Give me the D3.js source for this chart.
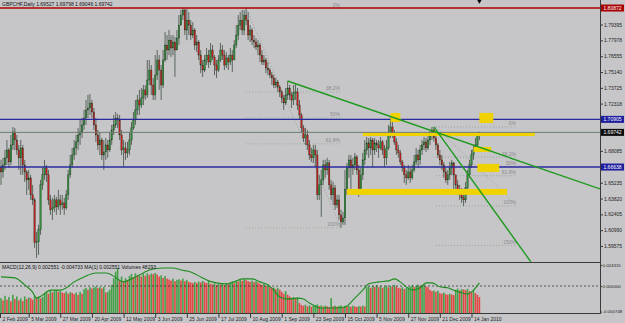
<!DOCTYPE html>
<html>
<head>
<meta charset="utf-8">
<script src="https://cdn.jsdelivr.net/npm/d3@7"></script>
<style>
  body { margin: 0; background: #c6c6c9; }
  svg { display: block; font-family: 'Liberation Sans', Arial, sans-serif; }
</style>
</head>
<body>
<svg id="chart" width="625" height="323"></svg>
<script>
// GBPCHF daily (open = previous close)
const firstOpen = 1.6660;
const closes = [
  1.6620, 1.6683, 1.6746, 1.6817, 1.6710, 1.6862, 1.6978, 1.6906, 1.6817, 1.6746,
  1.6835, 1.6683, 1.6620, 1.6549, 1.6567, 1.6415, 1.6370, 1.5986, 1.5994, 1.6102,
  1.6504, 1.6594, 1.6656, 1.6594, 1.6370, 1.6281, 1.6298, 1.6370, 1.6307, 1.6370,
  1.6325, 1.6343, 1.6298, 1.6415, 1.6594, 1.6683, 1.6772, 1.6835, 1.6889, 1.6951,
  1.6978, 1.7041, 1.7103, 1.7175, 1.7192, 1.7237, 1.7157, 1.7041, 1.6951, 1.6862,
  1.6906, 1.6772, 1.6799, 1.6862, 1.6817, 1.6906, 1.6996, 1.7041, 1.7103, 1.7085,
  1.6951, 1.6817, 1.6835, 1.6790, 1.6817, 1.6906, 1.7014, 1.7085, 1.7175, 1.7264,
  1.7219, 1.7282, 1.7354, 1.7309, 1.7443, 1.7532, 1.7398, 1.7309, 1.7488, 1.7622,
  1.7532, 1.7398, 1.7622, 1.7756, 1.7711, 1.7800, 1.7729, 1.7783, 1.7711, 1.7818,
  1.7934, 1.8024, 1.8069, 1.7890, 1.7979, 1.7934, 1.7845, 1.7890, 1.7756, 1.7783,
  1.7666, 1.7577, 1.7532, 1.7622, 1.7666, 1.7604, 1.7711, 1.7648, 1.7577, 1.7532,
  1.7622, 1.7711, 1.7666, 1.7577, 1.7640, 1.7604, 1.7666, 1.7622, 1.7756, 1.7845,
  1.7934, 1.7979, 1.7890, 1.8024, 1.7979, 1.7845, 1.7890, 1.7800, 1.7783, 1.7738,
  1.7756, 1.7666, 1.7604, 1.7622, 1.7550, 1.7532, 1.7488, 1.7461, 1.7398, 1.7425,
  1.7380, 1.7336, 1.7282, 1.7237, 1.7309, 1.7371, 1.7309, 1.7264, 1.7327, 1.7336,
  1.7219, 1.7130, 1.7014, 1.6924, 1.6951, 1.6862, 1.6772, 1.6746, 1.6817, 1.6772,
  1.6415, 1.6504, 1.6549, 1.6683, 1.6638, 1.6701, 1.6504, 1.6415, 1.6477, 1.6325,
  1.6370, 1.6236, 1.6173, 1.6209, 1.6460, 1.6656, 1.6728, 1.6656, 1.6683, 1.6755,
  1.6638, 1.6460, 1.6594, 1.6728, 1.6817, 1.6880, 1.6835, 1.6906, 1.6817, 1.6880,
  1.6862, 1.6835, 1.6889, 1.6817, 1.6746, 1.6835, 1.6951, 1.7023, 1.6951, 1.6889,
  1.6817, 1.6790, 1.6710, 1.6656, 1.6594, 1.6567, 1.6620, 1.6567, 1.6638, 1.6710,
  1.6772, 1.6728, 1.6817, 1.6862, 1.6889, 1.6835, 1.6906, 1.6951, 1.6996, 1.6924,
  1.6862, 1.6772, 1.6728, 1.6683, 1.6620, 1.6549, 1.6594, 1.6656, 1.6701, 1.6594,
  1.6504, 1.6460, 1.6415, 1.6388, 1.6370, 1.6477, 1.6594, 1.6683, 1.6772, 1.6817,
  1.6862, 1.69527, 1.69742
];
const highs = [
  1.6728, 1.6746, 1.6817, 1.6906, 1.6835, 1.6951, 1.7023, 1.7014, 1.6951, 1.6862,
  1.6906, 1.6862, 1.6728, 1.6638, 1.6638, 1.6594, 1.6504, 1.6388, 1.6084, 1.6147,
  1.6549, 1.6656, 1.6728, 1.6683, 1.6638, 1.6415, 1.6388, 1.6415, 1.6397, 1.6460,
  1.6415, 1.6415, 1.6388, 1.6460, 1.6638, 1.6772, 1.6835, 1.6906, 1.6951, 1.7014,
  1.7085, 1.7103, 1.7175, 1.7264, 1.7309, 1.7318, 1.7264, 1.7192, 1.7103, 1.6996,
  1.6969, 1.6924, 1.6906, 1.6924, 1.6906, 1.6978, 1.7041, 1.7130, 1.7157, 1.7139,
  1.7130, 1.6996, 1.6906, 1.6889, 1.6889, 1.6978, 1.7067, 1.7157, 1.7264, 1.7309,
  1.7354, 1.7371, 1.7398, 1.7398, 1.7622, 1.7622, 1.7577, 1.7461, 1.7666, 1.7711,
  1.7666, 1.7577, 1.7711, 1.7872, 1.7845, 1.7890, 1.7845, 1.7845, 1.7827, 1.7890,
  1.8024, 1.8070, 1.8087, 1.8080, 1.8080, 1.8051, 1.7979, 1.7961, 1.7908, 1.7845,
  1.7800, 1.7711, 1.7622, 1.7666, 1.7729, 1.7711, 1.7774, 1.7756, 1.7666, 1.7622,
  1.7666, 1.7774, 1.7756, 1.7711, 1.7693, 1.7666, 1.7729, 1.7711, 1.7800, 1.7934,
  1.8024, 1.8051, 1.8069, 1.8069, 1.8087, 1.8051, 1.7934, 1.7908, 1.7845, 1.7818,
  1.7800, 1.7774, 1.7711, 1.7666, 1.7640, 1.7604, 1.7550, 1.7514, 1.7488, 1.7461,
  1.7443, 1.7398, 1.7354, 1.7309, 1.7371, 1.7434, 1.7398, 1.7336, 1.7398, 1.7416,
  1.7371, 1.7264, 1.7148, 1.7041, 1.7014, 1.6996, 1.6906, 1.6835, 1.6862, 1.6862,
  1.6817, 1.6594, 1.6638, 1.6728, 1.6728, 1.6746, 1.6728, 1.6549, 1.6531, 1.6504,
  1.6415, 1.6415, 1.6281, 1.6263, 1.6638, 1.6701, 1.6772, 1.6772, 1.6746, 1.6790,
  1.6772, 1.6683, 1.6656, 1.6790, 1.6906, 1.6933, 1.6924, 1.6933, 1.6924, 1.6924,
  1.6906, 1.6906, 1.6933, 1.6906, 1.6862, 1.6906, 1.7041, 1.7112, 1.7103, 1.6996,
  1.6924, 1.6862, 1.6817, 1.6728, 1.6683, 1.6638, 1.6683, 1.6656, 1.6683, 1.6772,
  1.6835, 1.6817, 1.6862, 1.6906, 1.6933, 1.6924, 1.6951, 1.6996, 1.7023, 1.7023,
  1.6951, 1.6880, 1.6817, 1.6772, 1.6710, 1.6656, 1.6638, 1.6710, 1.6728, 1.6710,
  1.6594, 1.6549, 1.6504, 1.6477, 1.6442, 1.6531, 1.6638, 1.6728, 1.6817, 1.6862,
  1.6924, 1.6960, 1.69798
];
const lows = [
  1.6504, 1.6567, 1.6638, 1.6683, 1.6656, 1.6683, 1.6817, 1.6817, 1.6772, 1.6638,
  1.6594, 1.6594, 1.6531, 1.6415, 1.6460, 1.6370, 1.6325, 1.5941, 1.5851, 1.5878,
  1.6057, 1.6460, 1.6549, 1.6531, 1.6325, 1.6236, 1.6191, 1.6263, 1.6236, 1.6281,
  1.6236, 1.6281, 1.6236, 1.6281, 1.6370, 1.6567, 1.6656, 1.6728, 1.6772, 1.6817,
  1.6862, 1.6924, 1.6996, 1.7041, 1.7103, 1.7130, 1.7103, 1.6996, 1.6889, 1.6817,
  1.6772, 1.6728, 1.6638, 1.6728, 1.6746, 1.6799, 1.6862, 1.6951, 1.7014, 1.7014,
  1.6906, 1.6772, 1.6665, 1.6728, 1.6746, 1.6772, 1.6862, 1.6996, 1.7041, 1.7130,
  1.7130, 1.7192, 1.7219, 1.7264, 1.7282, 1.7398, 1.7309, 1.7264, 1.7264, 1.7443,
  1.7354, 1.7264, 1.7371, 1.7604, 1.7622, 1.7666, 1.7648, 1.7666, 1.7470, 1.7711,
  1.7756, 1.7934, 1.7979, 1.7845, 1.7800, 1.7845, 1.7800, 1.7818, 1.7711, 1.7693,
  1.7622, 1.7505, 1.7470, 1.7514, 1.7577, 1.7550, 1.7577, 1.7622, 1.7488, 1.7461,
  1.7514, 1.7604, 1.7622, 1.7532, 1.7550, 1.7532, 1.7577, 1.7514, 1.7622, 1.7729,
  1.7800, 1.7890, 1.7845, 1.7845, 1.7934, 1.7800, 1.7783, 1.7756, 1.7729, 1.7711,
  1.7666, 1.7604, 1.7577, 1.7577, 1.7505, 1.7488, 1.7461, 1.7398, 1.7371, 1.7371,
  1.7336, 1.7291, 1.7237, 1.7175, 1.7219, 1.7264, 1.7264, 1.7192, 1.7219, 1.7264,
  1.7175, 1.7085, 1.6969, 1.6889, 1.6862, 1.6817, 1.6728, 1.6710, 1.6701, 1.6665,
  1.6370, 1.6370, 1.6218, 1.6504, 1.6567, 1.6594, 1.6460, 1.6370, 1.6325, 1.6281,
  1.6298, 1.6191, 1.6120, 1.6147, 1.6147, 1.6415, 1.6567, 1.6460, 1.6594, 1.6638,
  1.6594, 1.6397, 1.6415, 1.6549, 1.6683, 1.6772, 1.6746, 1.6772, 1.6665, 1.6772,
  1.6799, 1.6746, 1.6817, 1.6772, 1.6665, 1.6683, 1.6817, 1.6924, 1.6924, 1.6862,
  1.6772, 1.6746, 1.6683, 1.6620, 1.6522, 1.6504, 1.6549, 1.6522, 1.6549, 1.6620,
  1.6683, 1.6656, 1.6683, 1.6772, 1.6817, 1.6799, 1.6817, 1.6862, 1.6906, 1.6889,
  1.6817, 1.6746, 1.6683, 1.6638, 1.6567, 1.6522, 1.6504, 1.6549, 1.6594, 1.6433,
  1.6460, 1.6415, 1.6370, 1.6343, 1.6316, 1.6343, 1.6442, 1.6567, 1.6656, 1.6728,
  1.6799, 1.6835, 1.69046
];

// volumes (thousands) and their smoothing line
const volumes = [
  45, 38, 52, 40, 48, 35, 55, 42, 50, 38,
  44, 36, 50, 42, 47, 45, 40, 52, 46, 50,
  44, 48, 60, 65, 58, 68, 62, 66, 70, 64,
  67, 62, 60, 65, 58, 63, 61, 57, 62, 55,
  64, 58, 72, 76, 70, 78, 74, 77, 80, 75,
  78, 74, 79, 62, 64, 70, 85, 105, 125, 136,
  100, 110, 95, 105, 98, 112, 118, 108, 120, 114,
  116, 110, 118, 112, 120, 115, 119, 117, 121, 116,
  110, 114, 106, 112, 104, 101, 98, 104, 96, 100,
  102, 98, 104, 96, 100, 94, 92, 90, 94, 91,
  95, 92, 97, 93, 90, 96, 88, 86, 90, 85,
  88, 86, 90, 84, 89, 87, 92, 96, 90, 98,
  95, 100, 97, 102, 99, 96, 94, 98, 93, 96,
  92, 88, 85, 90, 82, 87, 78, 74, 77, 72,
  76, 70, 64, 58, 66, 55, 50, 46, 48, 45,
  47, 30, 24, 22, 25, 20, 23, 19, 22, 24,
  26, 21, 23, 19, 22, 20, 18, 45, 20, 22,
  19, 21, 23, 18, 22, 20, 21, 19, 22, 20,
  18, 21, 19, 22, 20, 78, 80, 75, 82, 79,
  84, 78, 81, 76, 80, 83, 77, 82, 79, 85,
  80, 76, 74, 78, 72, 75, 77, 80, 84, 78,
  82, 86, 81, 84, 88, 80, 78, 70, 66, 68,
  64, 67, 60, 58, 62, 57, 55, 58, 56, 54,
  70, 74, 68, 72, 71, 69, 73, 66, 62, 68,
  60, 55, 48.3
];
const maBars = [0, 7, 12, 16, 18, 21, 25, 30, 33, 37, 42, 48, 53, 56, 62, 67, 72, 75, 82, 87,
  91, 96, 101, 105, 109, 114, 118, 122, 127, 131, 135, 138, 141, 145, 150, 153, 156, 160, 161, 169,
  174, 179, 183, 186, 191, 196, 199, 202, 205, 208, 212, 215, 218, 222, 226, 229, 232, 236, 239, 242];
const maValues = [109, 106, 85, 63, 45, 54, 69, 69, 76, 94, 109, 121, 121, 115, 94, 106, 121, 130, 136, 136,
  130, 124, 109, 97, 91, 88, 94, 103, 103, 94, 85, 69, 48, 42, 45, 42, 30, 18, 15, 15,
  18, 45, 69, 88, 94, 97, 103, 94, 79, 69, 76, 91, 91, 79, 76, 69, 63, 57, 69, 91];

const priceTicks = ['1.79395', '1.77978', '1.76555', '1.75140', '1.73725', '1.72318',
  '1.68085', '1.65235', '1.63820', '1.62405', '1.60990', '1.59575'];
const macdTicks = ['0.024315', '0.000000', '-0.000748'];
const dateLabels = ['2 Feb 2009', '5 Mar 2009', '27 Mar 2009', '20 Apr 2009', '12 May 2009', '3 Jun 2009',
  '25 Jun 2009', '17 Jul 2009', '10 Aug 2009', '1 Sep 2009', '23 Sep 2009', '15 Oct 2009',
  '5 Nov 2009', '27 Nov 2009', '21 Dec 2009', '14 Jan 2010'];
const dateBars = [-0.5, 14, 30, 46, 62, 78, 94, 110, 126, 142, 158, 174, 190, 206, 222, 238];

// horizontal lines with their axis tags
const levelPrices = [1.80872, 1.70905, 1.69742, 1.66638];
const levelKinds = ['high', 'resist', 'last', 'resist'];

// fibonacci retracements: [bar, price] anchors
const fib1 = [[124, 1.80872], [172, 1.6120]];
const fib1Levels = [0, 38.2, 50, 61.8, 100];
const fib2 = [[220, 1.7023], [261, 1.6316]];
const fib2Levels = [0, 38.2, 50, 61.8, 100, 150];

// trend lines
const trendBars = [[145, 303], [219, 268]];
const trendPrices = [[1.7434, 1.6468], [1.7023, 1.5816]];

// yellow zones
const zoneBar0 = [183, 197, 175, 242, 239, 241];
const zoneBar1 = [270, 202, 256, 249, 248, 252];
const zoneTop = [1.6969, 1.7148, 1.6468, 1.7148, 1.6844, 1.6692];
const zoneBottom = [1.6942, 1.7067, 1.6415, 1.7058, 1.6799, 1.6620];

const title = 'GBPCHF,Daily  1.69527  1.69798  1.69046  1.69742';
const macdTitle = 'MACD(12,26,9) 0.002551 -0.004733 MA(1) 0.002551 Volumes 48293';

const plotRight = 600, mainBottom = 262, panelTop = 263, panelBottom = 313;

const x = d3.scaleLinear().domain([0, 242]).range([1, 479.4]);
const y = d3.scaleLinear().domain([1.5814, 1.8159]).range([mainBottom, 0]);
const yVol = d3.scaleLinear().domain([0, 151]).range([panelBottom, panelTop]);
const yMacd = d3.scaleLinear().domain([-0.000748, 0, 0.024315]).range([311.5, 286, 265]);

const svg = d3.select('#chart');
svg.append('rect').attr('width', 625).attr('height', 323).attr('fill', '#c6c6c9');

const defs = svg.append('defs');
defs.append('clipPath').attr('id', 'clipMain').append('rect')
  .attr('x', 0).attr('y', 0).attr('width', plotRight).attr('height', mainBottom);
defs.append('clipPath').attr('id', 'clipPanel').append('rect')
  .attr('x', 0).attr('y', panelTop).attr('width', plotRight).attr('height', panelBottom - panelTop);

const main = svg.append('g').attr('clip-path', 'url(#clipMain)');

// fib levels
function drawFib(anchors, levels, color) {
  const [a, b] = anchors;
  const g = main.append('g').attr('class', 'fib');
  const lv = levels.map(p => ({ p, price: a[1] + (b[1] - a[1]) * p / 100 }));
  g.selectAll('line.lvl').data(lv).enter().append('line')
    .attr('x1', x(a[0])).attr('x2', x(b[0]))
    .attr('y1', d => y(d.price)).attr('y2', d => y(d.price))
    .attr('stroke', color).attr('stroke-width', 0.8).attr('stroke-dasharray', '1,2');
  g.append('line')
    .attr('x1', x(a[0])).attr('y1', y(a[1])).attr('x2', x(b[0])).attr('y2', y(b[1]))
    .attr('stroke', '#8c968c').attr('stroke-width', 0.8).attr('stroke-dasharray', '1,2');
  g.selectAll('text').data(lv).enter().append('text')
    .attr('x', x(b[0]) - 1).attr('y', d => y(d.price) - 1.5)
    .attr('text-anchor', 'end').attr('font-size', 5).attr('fill', '#8a8a8a')
    .text(d => d.p + '%');
}
drawFib(fib1, fib1Levels, '#86a886');
drawFib(fib2, fib2Levels, '#8e9c8e');

// candles
const bars = closes.map((c, i) => ({ i, open: i === 0 ? firstOpen : closes[i - 1], close: c, high: highs[i], low: lows[i] }));
const bw = 1.5;
const candle = main.append('g').attr('class', 'candles')
  .selectAll('g').data(bars).enter().append('g');
candle.append('line')
  .attr('x1', d => x(d.i)).attr('x2', d => x(d.i))
  .attr('y1', d => y(d.high)).attr('y2', d => y(d.low))
  .attr('stroke', '#2c3c2c').attr('stroke-width', 0.7);
candle.append('rect')
  .attr('x', d => x(d.i) - bw / 2)
  .attr('y', d => y(Math.max(d.open, d.close)))
  .attr('width', bw)
  .attr('height', d => Math.max(0.7, Math.abs(y(d.open) - y(d.close))))
  .attr('fill', d => d.close >= d.open ? '#2f8a3a' : '#c41c1c')
  .attr('stroke', '#1e361e').attr('stroke-width', 0.3);

// horizontal levels
const levelColor = { high: '#b30000', resist: '#2a2aa0', last: '#6e7c6e' };
main.selectAll('line.level').data(levelPrices).enter().append('line')
  .attr('x1', 0).attr('x2', plotRight)
  .attr('y1', d => y(d)).attr('y2', d => y(d))
  .attr('stroke', (d, i) => levelColor[levelKinds[i]])
  .attr('stroke-width', (d, i) => levelKinds[i] === 'last' ? 1 : 1.4);

// yellow zones
main.selectAll('rect.zone').data(zoneTop).enter().append('rect')
  .attr('x', (d, i) => x(zoneBar0[i]))
  .attr('width', (d, i) => x(zoneBar1[i]) - x(zoneBar0[i]))
  .attr('y', d => y(d))
  .attr('height', (d, i) => y(zoneBottom[i]) - y(d))
  .attr('fill', '#f0d200');

// trend lines
main.selectAll('line.trend').data(trendBars).enter().append('line')
  .attr('x1', d => x(d[0])).attr('x2', d => x(d[1]))
  .attr('y1', (d, i) => y(trendPrices[i][0])).attr('y2', (d, i) => y(trendPrices[i][1]))
  .attr('stroke', '#1f9a1f').attr('stroke-width', 1.4);

// indicator panel
const panel = svg.append('g').attr('clip-path', 'url(#clipPanel)');
panel.selectAll('rect.vol').data(volumes).enter().append('rect')
  .attr('x', (d, i) => x(i) - 0.8).attr('width', 1.6)
  .attr('y', d => yVol(d)).attr('height', d => panelBottom - yVol(d))
  .attr('fill', (d, i) => i > 0 && d < volumes[i - 1] ? '#e8302c' : '#2f9a33')
  .attr('opacity', 0.85);
panel.append('line')
  .attr('x1', 0).attr('x2', plotRight).attr('y1', yMacd(0)).attr('y2', yMacd(0))
  .attr('stroke', '#202020').attr('stroke-width', 0.7).attr('stroke-dasharray', '2,2');
const maLine = d3.line().curve(d3.curveMonotoneX)
  .x(d => x(d[0])).y(d => yVol(d[1]));
panel.append('path')
  .attr('d', maLine(maBars.map((b, i) => [b, maValues[i]])))
  .attr('fill', 'none').attr('stroke', '#1d8c1d').attr('stroke-width', 1.1);

// frame lines
svg.append('line').attr('x1', 0).attr('x2', plotRight).attr('y1', mainBottom + 0.5).attr('y2', mainBottom + 0.5)
  .attr('stroke', '#3a3a3a').attr('stroke-width', 1);
svg.append('line').attr('x1', 0).attr('x2', plotRight).attr('y1', panelBottom + 0.5).attr('y2', panelBottom + 0.5)
  .attr('stroke', '#3a3a3a').attr('stroke-width', 1);
svg.append('line').attr('x1', plotRight + 0.5).attr('x2', plotRight + 0.5).attr('y1', 0).attr('y2', panelBottom + 1)
  .attr('stroke', '#3a3a3a').attr('stroke-width', 1);

// right price axis
const yAxis = d3.axisRight(y)
  .tickValues(priceTicks.map(Number))
  .tickFormat((d, i) => priceTicks[i])
  .tickSize(3).tickSizeOuter(0).tickPadding(1);
const yAxisG = svg.append('g').attr('transform', `translate(${plotRight},0)`).call(yAxis);
yAxisG.select('.domain').remove();
yAxisG.selectAll('line').attr('stroke', '#3a3a3a');
yAxisG.selectAll('text').attr('font-size', 5).attr('fill', '#1e1e1e').attr('font-family', 'Liberation Sans, Arial, sans-serif');

const mAxis = d3.axisRight(yMacd)
  .tickValues(macdTicks.map(Number))
  .tickFormat((d, i) => macdTicks[i])
  .tickSize(2).tickSizeOuter(0).tickPadding(0.5);
const mAxisG = svg.append('g').attr('transform', `translate(${plotRight},0)`).call(mAxis);
mAxisG.select('.domain').remove();
mAxisG.selectAll('line').attr('stroke', '#3a3a3a');
mAxisG.selectAll('text').attr('font-size', 4.4).attr('fill', '#1e1e1e').attr('font-family', 'Liberation Sans, Arial, sans-serif');

// price tags on the axis
const tagColor = { high: '#a80000', resist: '#1e1e9e', last: '#0c0c0c' };
const tags = svg.append('g').selectAll('g').data(levelPrices).enter().append('g')
  .attr('transform', d => `translate(${plotRight + 1},${y(d)})`);
tags.append('rect')
  .attr('x', 0).attr('y', -3.5).attr('width', 23).attr('height', 7)
  .attr('fill', (d, i) => tagColor[levelKinds[i]]);
tags.append('text')
  .attr('x', 11.5).attr('y', 1.8).attr('text-anchor', 'middle')
  .attr('font-size', 5).attr('fill', '#ffffff')
  .text(d => d.toFixed(5));

// date axis
const xAxis = d3.axisBottom(x)
  .tickValues(dateBars)
  .tickFormat((d, i) => dateLabels[i])
  .tickSize(5).tickSizeOuter(0);
const xAxisG = svg.append('g').attr('transform', `translate(0,${panelBottom})`).call(xAxis);
xAxisG.select('.domain').remove();
xAxisG.selectAll('line').attr('stroke', '#3a3a3a');
xAxisG.selectAll('text')
  .attr('text-anchor', 'start').attr('dx', 2).attr('y', 4)
  .attr('font-size', 5).attr('fill', '#1e1e1e').attr('font-family', 'Liberation Sans, Arial, sans-serif');

// titles
svg.append('text').attr('x', 2).attr('y', 5.5).attr('font-size', 5).attr('fill', '#111').text(title);
svg.append('text').attr('x', 2).attr('y', 269).attr('font-size', 5).attr('fill', '#111').text(macdTitle);

// chart shift marker
svg.append('path')
  .attr('d', d3.symbol().type(d3.symbolTriangle).size(10))
  .attr('transform', `translate(${x(242)},1) rotate(180)`)
  .attr('fill', '#000');
</script>
</body>
</html>
